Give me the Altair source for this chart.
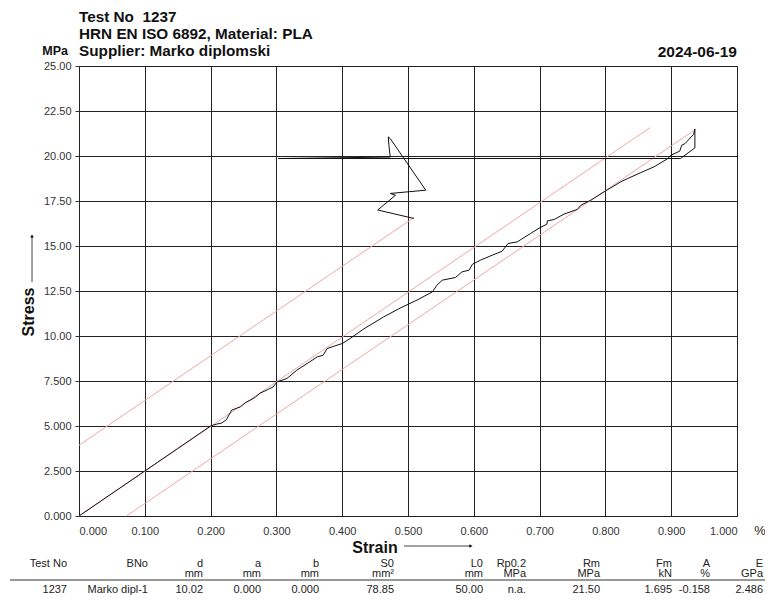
import altair as alt
import pandas as pd

# ---- measured stress-strain curve (strain in %, stress in MPa), in drawing order
strain = [0.000, 0.050, 0.100, 0.150, 0.200, 0.209, 0.217, 0.224, 0.232, 0.245,
          0.253, 0.260, 0.268, 0.275, 0.288, 0.295, 0.301, 0.316, 0.331, 0.348,
          0.362, 0.371, 0.377, 0.388, 0.400, 0.412, 0.433, 0.463, 0.488, 0.514,
          0.537, 0.544, 0.552, 0.572, 0.582, 0.593, 0.598, 0.610, 0.628, 0.643,
          0.652, 0.666, 0.686, 0.701, 0.711, 0.712, 0.722, 0.737, 0.757, 0.763,
          0.778, 0.798, 0.823, 0.834, 0.854, 0.874, 0.894, 0.900, 0.913, 0.916,
          0.921, 0.934, 0.936, 0.936, 0.914, 0.303, 0.473, 0.471, 0.470, 0.473,
          0.527, 0.473, 0.481, 0.454, 0.509]
stress = [0.00, 1.25, 2.50, 3.75, 5.00, 5.10, 5.17, 5.35, 5.88, 6.06,
          6.30, 6.43, 6.60, 6.82, 7.04, 7.17, 7.45, 7.64, 8.10, 8.50,
          8.84, 8.93, 9.30, 9.44, 9.58, 9.86, 10.40, 11.06, 11.55, 12.00,
          12.45, 12.82, 13.10, 13.25, 13.56, 13.66, 13.99, 14.21, 14.49, 14.71,
          15.14, 15.23, 15.69, 16.03, 16.21, 16.40, 16.47, 16.77, 17.03, 17.27,
          17.55, 18.01, 18.56, 18.75, 19.08, 19.40, 19.84, 20.05, 20.27, 20.60,
          20.69, 21.20, 21.50, 20.45, 19.86, 19.86, 19.94, 20.60, 21.06, 20.97,
          18.10, 17.92, 17.82, 17.00, 16.53]

# ---- modulus (E) lines
mod_line = ["upper", "upper", "mid", "mid", "lower", "lower"]
mod_strain = [0.000, 0.509, 0.000, 0.868, 0.072, 0.937]
mod_stress = [3.93, 16.58, 0.00, 21.58, 0.00, 21.48]

# ---- axis ticks
x_ticks = [0.0, 0.1, 0.2, 0.3, 0.4, 0.5, 0.6, 0.7, 0.8, 0.9, 1.0]
y_ticks = [0.0, 2.5, 5.0, 7.5, 10.0, 12.5, 15.0, 17.5, 20.0, 22.5, 25.0]

# ---- header texts
title_lines = ["Test No\u00a0 1237", "HRN EN ISO 6892, Material: PLA", "Supplier: Marko diplomski"]
date_text = "2024-06-19"

# ---- results table
tbl_headers = ["Test No", "BNo", "d", "a", "b", "S0", "L0", "Rp0.2", "Rm", "Fm", "A", "E"]
tbl_units = ["", "", "mm", "mm", "mm", "mm²", "mm", "MPa", "MPa", "kN", "%", "GPa"]
tbl_values = ["1237", "Marko dipl-1", "10.02", "0.000", "0.000", "78.85", "50.00",
              "n.a.", "21.50", "1.695", "-0.158", "2.486"]

# layout (pixels relative to plot origin)
col_right = [-12, 69, 124, 182, 240, 315, 404, 447, 521, 593, 631, 684]
row_y = [501, 511, 527]

FONT = "Liberation Sans"
W, H = 658, 450

curve_df = pd.DataFrame({"strain": strain, "stress": stress, "ord": list(range(len(strain)))})
mod_df = pd.DataFrame({"line": mod_line, "strain": mod_strain, "stress": mod_stress})

xenc = alt.X("strain:Q",
             scale=alt.Scale(domain=[0, 1], nice=False, zero=False),
             axis=alt.Axis(values=x_ticks, format=".3f", title=None, ticks=False,
                           labelPadding=9, domain=False, grid=True))
yenc = alt.Y("stress:Q",
             scale=alt.Scale(domain=[0, 25], nice=False, zero=False),
             axis=alt.Axis(values=y_ticks, format=".4g", title=None, ticks=True,
                           tickSize=4, labelPadding=4, domain=False, grid=True))

mod_layer = alt.Chart(mod_df).mark_line(color="#f0a8a8", strokeWidth=1).encode(
    x=xenc, y=yenc, detail="line:N")

curve_layer = alt.Chart(curve_df).mark_line(color="#111111", strokeWidth=1).encode(
    x="strain:Q", y="stress:Q", order="ord:Q")

rows = []
for i, r in enumerate([tbl_headers, tbl_units, tbl_values]):
    for j, lab in enumerate(r):
        if lab:
            rows.append({"label": lab, "px": col_right[j], "py": row_y[i]})
tbl_df = pd.DataFrame(rows)

table_layer = alt.Chart(tbl_df).mark_text(
    align="right", baseline="alphabetic", font=FONT, fontSize=11, color="#222"
).encode(
    x=alt.X("px:Q", scale=None, axis=None),
    y=alt.Y("py:Q", scale=None, axis=None),
    text="label:N")

layers = [mod_layer, curve_layer, table_layer]

title_y = [-44.3, -27.5, -10]
for t, ty in zip(title_lines, title_y):
    layers.append(alt.Chart().mark_text(align="left", baseline="alphabetic", font=FONT,
                                        fontSize=15.3, fontWeight="bold", color="#111").encode(
        x=alt.value(0), y=alt.value(ty), text=alt.value(t)))

layers.append(alt.Chart().mark_text(align="right", baseline="alphabetic", font=FONT,
                                    fontSize=15.5, fontWeight="bold", color="#111").encode(
    x=alt.value(W), y=alt.value(-9.5), text=alt.value(date_text)))

layers.append(alt.Chart().mark_text(align="right", baseline="alphabetic", font=FONT,
                                    fontSize=12.5, fontWeight="bold", color="#111").encode(
    x=alt.value(-11), y=alt.value(-11), text=alt.value("MPa")))

layers.append(alt.Chart().mark_text(align="center", baseline="alphabetic", font=FONT,
                                    fontSize=13, color="#222").encode(
    x=alt.value(681), y=alt.value(469), text=alt.value("%")))

# Strain axis title + arrow
layers.append(alt.Chart().mark_text(align="center", baseline="alphabetic", font=FONT,
                                    fontSize=16, fontWeight="bold", color="#111").encode(
    x=alt.value(296), y=alt.value(487), text=alt.value("Strain")))
layers.append(alt.Chart().mark_rule(color="#111", strokeWidth=0.8).encode(
    x=alt.value(325), x2=alt.value(392), y=alt.value(480)))
layers.append(alt.Chart().mark_point(shape="triangle-right", filled=True, color="#111",
                                     size=14, opacity=1).encode(
    x=alt.value(392), y=alt.value(480)))

# Stress axis title + arrow
layers.append(alt.Chart().mark_text(align="center", baseline="middle", font=FONT, angle=270,
                                    fontSize=16, fontWeight="bold", color="#111").encode(
    x=alt.value(-50), y=alt.value(246), text=alt.value("Stress")))
layers.append(alt.Chart().mark_rule(color="#111", strokeWidth=0.8).encode(
    x=alt.value(-47), y=alt.value(170), y2=alt.value(216)))
layers.append(alt.Chart().mark_point(shape="triangle-up", filled=True, color="#111",
                                     size=14, opacity=1).encode(
    x=alt.value(-47), y=alt.value(170)))

# table separator line
layers.append(alt.Chart().mark_rule(color="#333", strokeWidth=1).encode(
    x=alt.value(-69), x2=alt.value(686), y=alt.value(514)))

chart = alt.layer(*layers).properties(
    width=W, height=H,
    autosize=alt.AutoSizeParams(type="none"),
    padding={"left": 71, "top": 58, "right": 28, "bottom": 79},
).configure_view(
    stroke="#444", strokeWidth=1
).configure_axis(
    gridColor="#222", gridWidth=1, gridOpacity=1,
    labelFont=FONT, labelFontSize=11, labelColor="#333",
    tickColor="#333", tickWidth=1
)

chart.save("out.html", embed_options={"renderer": "svg", "actions": False})
